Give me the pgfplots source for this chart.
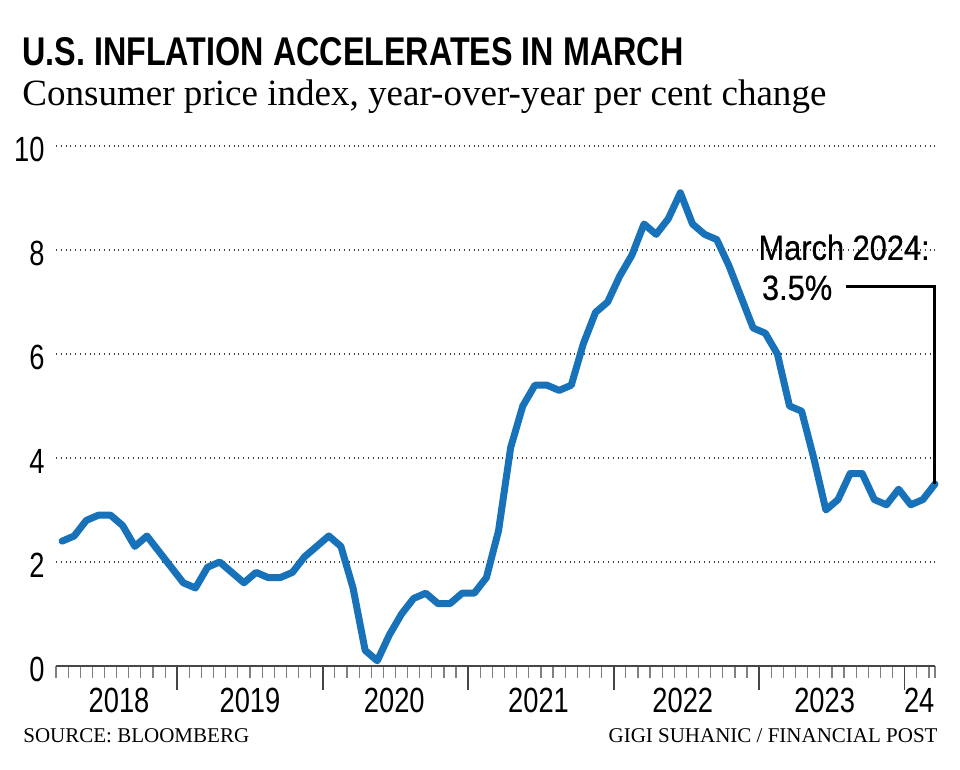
\documentclass[border=0pt]{standalone}
\usepackage{fontspec}
\usepackage{graphicx}
\usepackage{pgfplots}
\pgfplotsset{compat=1.18}
\setmainfont{Liberation Serif}
\newfontfamily\condfont[FakeStretch=0.78]{Liberation Sans}
\newfontfamily\annfont[FakeStretch=0.88, FakeBold=0.4]{Liberation Sans}
\newfontfamily\titlefont{Liberation Sans}
\definecolor{fpblue}{RGB}{24,114,186}
\definecolor{axgray}{RGB}{70,70,70}
\newcommand\yearlab[2]{\node[anchor=base, inner sep=0pt] at (axis cs:#1,0) [yshift=-23.5pt] {\condfont\fontsize{17.5}{17.5}\selectfont #2};}

\begin{document}
\begin{tikzpicture}
\useasboundingbox (0,0) rectangle (480pt,385pt);
\node[anchor=base west, inner sep=0pt] at (11pt,352pt)
  {\resizebox{330.5pt}{14pt}{\titlefont\bfseries U.S. INFLATION ACCELERATES IN MARCH}};
\node[anchor=base west, inner sep=0pt] at (11pt,332pt)
  {\resizebox{402pt}{!}{\fontsize{17}{17}\selectfont Consumer price index, year-over-year per cent change}};
\node[anchor=base west, inner sep=0pt] at (11.5pt,13.5pt)
  {\fontsize{10.5}{10.5}\selectfont SOURCE: BLOOMBERG};
\node[anchor=base east, inner sep=0pt] at (469pt,13.5pt)
  {\fontsize{10.5}{10.5}\selectfont GIGI SUHANIC / FINANCIAL POST};

\begin{axis}[
  at={(28pt,52pt)}, anchor=south west,
  scale only axis, width=439.5pt, height=260pt,
  xmin=-0.5, xmax=72, ymin=0, ymax=10,
  clip=false,
  axis x line*=bottom, axis y line*=left,
  y axis line style={draw=none},
  x axis line style={draw=axgray, line width=0.9pt},
  ytick={0,2,4,6,8,10},
  ytick style={draw=none},
  ymajorgrids,
  grid style={dotted, black!75, line width=0.7pt},
  xtick={9.5,21.5,33.5,45.5,57.5,69.5},
  xticklabels={},
  minor xtick={-0.5,0.5,...,71.5,72},
  tick align=outside,
  major tick length=12pt,
  minor tick length=6pt,
  xtick style={draw=axgray, line width=0.8pt},
  minor x tick style={draw=gray, line width=0.6pt},
  /pgf/number format/assume math mode=true,
  yticklabel style={font=\condfont\fontsize{17.5}{17.5}\selectfont, inner sep=0pt, xshift=6.5pt, yshift=-1.5pt},
]
\addplot[color=fpblue, line width=3.5pt, line join=round, line cap=round] table[x=i, y=v] {
i v
0 2.4
1 2.5
2 2.8
3 2.9
4 2.9
5 2.7
6 2.3
7 2.5
8 2.2
9 1.9
10 1.6
11 1.5
12 1.9
13 2.0
14 1.8
15 1.6
16 1.8
17 1.7
18 1.7
19 1.8
20 2.1
21 2.3
22 2.5
23 2.3
24 1.5
25 0.3
26 0.1
27 0.6
28 1.0
29 1.3
30 1.4
31 1.2
32 1.2
33 1.4
34 1.4
35 1.7
36 2.6
37 4.2
38 5.0
39 5.4
40 5.4
41 5.3
42 5.4
43 6.2
44 6.8
45 7.0
46 7.5
47 7.9
48 8.5
49 8.3
50 8.6
51 9.1
52 8.5
53 8.3
54 8.2
55 7.7
56 7.1
57 6.5
58 6.4
59 6.0
60 5.0
61 4.9
62 4.0
63 3.0
64 3.2
65 3.7
66 3.7
67 3.2
68 3.1
69 3.4
70 3.1
71 3.2
72 3.5
};
\draw[black, line width=1.5pt] (axis cs:64.7,7.29) -| (axis cs:72,3.5);
\node[anchor=base east, inner sep=0pt] at (axis cs:71.6,7.81)
  {\annfont\fontsize{17.5}{17.5}\selectfont March 2024:};
\node[anchor=base west, inner sep=0pt] at (axis cs:57.7,7.04)
  {\annfont\fontsize{17.5}{17.5}\selectfont 3.5\%};
\yearlab{4.7}{2018}
\yearlab{15.5}{2019}
\yearlab{27.4}{2020}
\yearlab{39.3}{2021}
\yearlab{51.2}{2022}
\yearlab{62.9}{2023}
\yearlab{70.7}{24}
\end{axis}
\end{tikzpicture}
\end{document}
